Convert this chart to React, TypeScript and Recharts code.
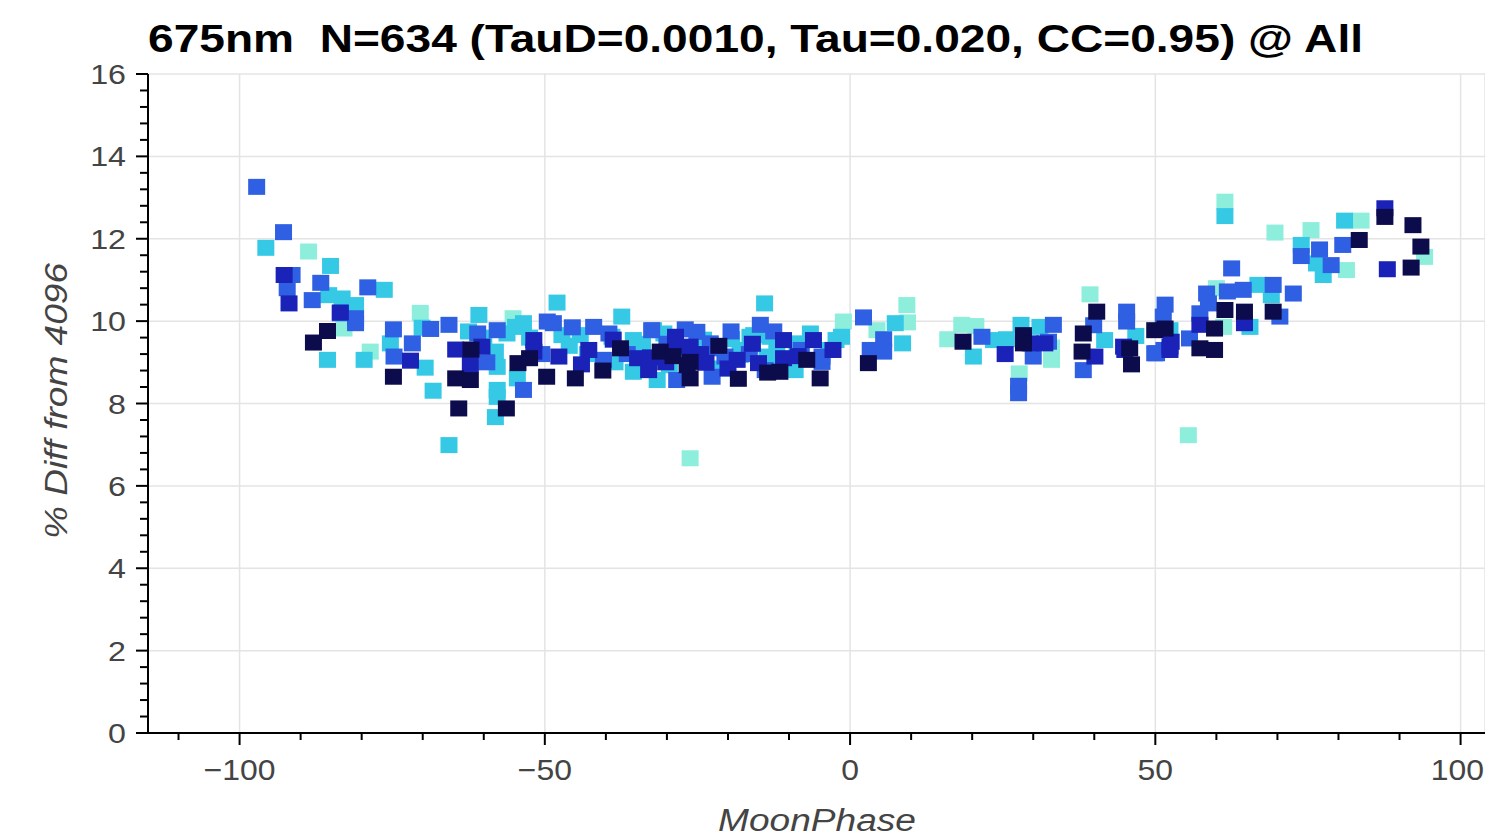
import React from 'react';
import { ScatterChart, Scatter, XAxis, YAxis, CartesianGrid } from 'recharts';

// MoonPhase vs % Diff from 4096, split by colour bucket (dark -> light)
const navyPts = [
  [-85.6, 9.76], [-87.9, 9.48], [-74.8, 8.65], [-62.1, 9.31], [-64.6, 8.61], [-62.2, 8.57],
  [-64.1, 7.88], [-56.3, 7.88], [-54.4, 8.98], [-52.5, 9.1], [-49.7, 8.65], [-45.0, 8.61],
  [-40.5, 8.8], [-37.6, 9.34], [-31.1, 9.26], [-29.0, 9.15], [-26.2, 9.01], [-26.2, 8.61],
  [-26.7, 8.93], [-21.5, 9.4], [-18.3, 8.6], [-13.5, 8.75], [-11.5, 8.77], [-7.1, 9.06],
  [-4.9, 8.61], [3.0, 8.98], [18.5, 9.5], [28.4, 9.66], [28.4, 9.46], [38.2, 9.7],
  [40.4, 10.23], [38.0, 9.26], [45.8, 9.34], [46.1, 8.95], [49.9, 9.78], [51.6, 9.82],
  [57.3, 9.34], [59.7, 9.82], [59.7, 9.3], [61.4, 10.27], [64.6, 10.23], [69.3, 10.23],
  [83.4, 11.97], [87.6, 12.53], [92.2, 12.33], [93.5, 11.81], [91.9, 11.3],
];

const darkBluePts = [
  [-92.7, 11.12], [-91.9, 10.43], [-83.5, 10.21], [-72.0, 9.04], [-64.6, 9.31], [-62.2, 8.95],
  [-60.3, 9.38], [-51.8, 9.54], [-51.8, 9.26], [-47.7, 9.14], [-44.0, 8.95], [-42.8, 9.3],
  [-38.8, 9.55], [-34.8, 9.1], [-32.7, 9.12], [-33.0, 8.81], [-30.2, 9.0], [-28.6, 9.62],
  [-28.6, 9.4], [-26.2, 9.38], [-24.5, 9.2], [-23.6, 8.99], [-20.0, 8.85], [-18.5, 9.06],
  [-16.0, 9.45], [-15.0, 8.98], [-10.9, 9.54], [-10.9, 9.1], [-8.5, 9.15], [-6.0, 9.54],
  [-2.8, 9.3], [25.4, 9.2], [29.5, 9.46], [31.9, 9.46], [40.1, 9.14], [44.8, 9.38],
  [45.0, 9.3], [52.4, 9.38], [52.6, 9.5], [52.4, 9.3], [57.3, 9.91], [64.6, 9.95],
  [87.6, 12.74], [88.0, 11.26],
];

const bluePts = [
  [-97.2, 13.26], [-92.8, 12.16], [-91.4, 11.12], [-92.2, 10.8], [-86.7, 10.93], [-88.1, 10.51],
  [-79.0, 10.82], [-83.5, 10.19], [-81.0, 10.07], [-81.0, 9.95], [-74.8, 9.8], [-74.7, 9.14],
  [-71.7, 9.46], [-68.7, 9.81], [-65.7, 9.91], [-61.0, 9.7], [-59.5, 9.0], [-57.8, 9.78],
  [-53.5, 8.33], [-50.5, 9.2], [-49.6, 9.99], [-48.6, 9.95], [-45.5, 9.85], [-42.0, 9.86],
  [-40.4, 9.06], [-39.5, 9.7], [-36.5, 9.2], [-32.5, 9.78], [-30.0, 9.45], [-28.4, 8.57],
  [-27.0, 9.8], [-25.1, 9.74], [-22.6, 8.65], [-22.9, 9.46], [-20.5, 9.14], [-22.4, 9.34],
  [-19.5, 9.75], [-16.5, 9.2], [-14.7, 9.91], [-13.9, 8.81], [-12.5, 9.75], [-8.0, 9.3],
  [-4.6, 9.01], [-4.6, 9.14], [2.2, 10.09], [5.5, 9.56], [5.5, 9.26], [3.3, 9.3],
  [21.6, 9.62], [27.6, 8.43], [27.6, 8.25], [30.0, 9.14], [33.3, 9.91], [32.5, 9.5],
  [38.2, 8.81], [39.9, 9.9], [45.3, 10.23], [45.3, 9.99], [49.9, 9.22], [51.4, 9.3],
  [51.6, 10.4], [51.3, 10.11], [50.2, 9.22], [55.6, 9.58], [57.3, 10.19], [58.4, 10.67],
  [58.7, 10.43], [61.8, 10.72], [62.5, 11.28], [64.4, 10.76], [69.3, 10.88], [70.4, 10.11],
  [72.6, 10.67], [73.9, 11.58], [76.9, 11.74], [78.8, 11.36], [80.7, 11.85],
];

const cyanPts = [
  [-95.7, 11.78], [-85.1, 11.34], [-85.4, 10.63], [-83.2, 10.55], [-81.0, 10.39], [-76.3, 10.76],
  [-85.6, 9.06], [-79.6, 9.06], [-75.3, 9.46], [-70.1, 9.84], [-69.6, 8.87], [-68.3, 8.31],
  [-62.5, 9.75], [-60.8, 10.15], [-60.0, 9.6], [-65.7, 6.99], [-57.8, 8.33], [-57.8, 8.16],
  [-58.1, 7.67], [-58.1, 9.26], [-57.8, 8.89], [-54.5, 8.61], [-53.5, 9.95], [-54.8, 9.86],
  [-56.2, 9.7], [-52.5, 9.6], [-48.0, 10.45], [-47.2, 9.66], [-46.0, 9.4], [-44.2, 9.66],
  [-43.0, 9.2], [-38.5, 9.0], [-37.4, 10.11], [-39.0, 9.62], [-35.5, 9.54], [-35.2, 9.34],
  [-35.5, 8.77], [-34.0, 9.45], [-31.6, 8.57], [-30.5, 9.7], [-29.6, 8.93], [-27.5, 9.2],
  [-32.2, 9.78], [-24.0, 9.55], [-21.0, 8.85], [-19.4, 9.56], [-18.0, 9.18], [-17.2, 9.3],
  [-16.4, 9.62], [-14.0, 10.43], [-15.8, 9.66], [-13.6, 9.14], [-13.1, 9.62], [-12.0, 9.3],
  [-9.0, 8.81], [-8.7, 9.46], [-6.5, 9.7], [-3.5, 9.3], [-2.3, 9.54], [-1.4, 9.62],
  [7.4, 9.95], [8.6, 9.46], [20.2, 9.14], [23.5, 9.54], [25.6, 9.56], [28.0, 9.91],
  [31.1, 9.86], [41.7, 9.54], [46.8, 9.64], [52.4, 9.78], [61.4, 12.55], [65.5, 9.86],
  [66.8, 10.88], [69.0, 10.63], [73.9, 11.85], [76.4, 11.4], [77.5, 11.12], [81.0, 12.44],
];

const aquaPts = [
  [-88.7, 11.69], [-82.9, 9.82], [-78.6, 9.26], [-70.4, 10.2], [-55.2, 10.07], [-26.2, 6.67],
  [-1.1, 9.99], [9.3, 10.39], [9.4, 9.97], [4.4, 9.78], [16.0, 9.56], [18.3, 9.91],
  [20.6, 9.88], [27.7, 8.73], [33.0, 9.36], [33.0, 9.06], [39.3, 10.65], [55.4, 7.23],
  [61.4, 12.9], [60.0, 10.8], [61.2, 9.86], [69.6, 12.15], [75.5, 12.21], [83.7, 12.44],
  [81.3, 11.24], [94.1, 11.56],
];

const xMajorTicks = [-100, -50, 0, 50, 100];
const xAllTicks = [-110, -100, -90, -80, -70, -60, -50, -40, -30, -20, -10, 0, 10, 20, 30, 40, 50, 60, 70, 80, 90, 100];
const yMajorTicks = [0, 2, 4, 6, 8, 10, 12, 14, 16];
const yAllTicks = [
  0, 0.4, 0.8, 1.2, 1.6, 2, 2.4, 2.8, 3.2, 3.6, 4, 4.4, 4.8, 5.2, 5.6, 6, 6.4, 6.8, 7.2, 7.6,
  8, 8.4, 8.8, 9.2, 9.6, 10, 10.4, 10.8, 11.2, 11.6, 12, 12.4, 12.8, 13.2, 13.6, 14, 14.4,
  14.8, 15.2, 15.6, 16,
];

const series = [
  { name: 'aqua', color: '#8deedc', pts: aquaPts },
  { name: 'cyan', color: '#36c9e6', pts: cyanPts },
  { name: 'blue', color: '#2f5fe2', pts: bluePts },
  { name: 'darkblue', color: '#1a22b8', pts: darkBluePts },
  { name: 'navy', color: '#0c0c4c', pts: navyPts },
];

const FONT = '"Liberation Sans", Arial, Helvetica, sans-serif';
const CHART_W = 1485;
const isMajor = (v: number, majors: number[]) => majors.some((m) => Math.abs(m - v) < 1e-6);
const fmt = (v: number) => (v < 0 ? '\u2212' + Math.abs(v) : String(v));

const XTick = (props: any) => {
  const { x, y, payload } = props;
  const major = isMajor(payload.value, xMajorTicks);
  const label = fmt(payload.value);
  // keep the last label inside the picture, as the reference does
  const half = label.length * 29 * 0.556 * 1.1 * 0.5;
  const tx = Math.min(x, CHART_W - 1 - half);
  return (
    <g>
      <line x1={x} x2={x} y1={y} y2={y + (major ? 12 : 7)} stroke="#000" strokeWidth={2} />
      {major && (
        <text transform={`translate(${tx},${y + 47}) scale(1.1,1)`} textAnchor="middle" fontSize={29} fill="#444" fontFamily={FONT}>
          {label}
        </text>
      )}
    </g>
  );
};

const YTick = (props: any) => {
  const { x, y, payload } = props;
  const major = isMajor(payload.value, yMajorTicks);
  return (
    <g>
      <line x1={x - (major ? 12 : 8)} x2={x} y1={y} y2={y} stroke="#000" strokeWidth={2} />
      {major && (
        <text transform={`translate(${x - 22},${y + 10}) scale(1.15,1)`} textAnchor="end" fontSize={28} fill="#444" fontFamily={FONT}>
          {payload.value}
        </text>
      )}
    </g>
  );
};

const square = (color: string) => (props: any) => (
  <rect x={props.cx - 8.5} y={props.cy - 8} width={17} height={16} fill={color} />
);

export default function App() {
  return (
    <div style={{ position: 'absolute', left: 0, top: 0, width: CHART_W, height: 839, background: '#fff', overflow: 'hidden' }}>
      <ScatterChart width={CHART_W} height={839} margin={{ top: 74, right: 0, bottom: 0, left: 0 }}>
        <CartesianGrid xAxisId="grid" yAxisId="grid" stroke="#e4e4e4" strokeWidth={1.5} />
        <XAxis xAxisId="grid" type="number" dataKey="x" domain={[-115, 104]} ticks={xMajorTicks} allowDataOverflow hide />
        <YAxis yAxisId="grid" type="number" dataKey="y" domain={[0, 16]} ticks={yMajorTicks} allowDataOverflow hide />
        <XAxis
          type="number"
          dataKey="x"
          domain={[-115, 104]}
          ticks={xAllTicks}
          interval={0}
          allowDataOverflow
          height={106}
          tickSize={0}
          tickMargin={0}
          tickLine={false}
          axisLine={{ stroke: '#000', strokeWidth: 2 }}
          tick={<XTick />}
        />
        <YAxis
          type="number"
          dataKey="y"
          domain={[0, 16]}
          ticks={yAllTicks}
          interval={0}
          allowDataOverflow
          width={148}
          tickSize={0}
          tickMargin={0}
          tickLine={false}
          axisLine={{ stroke: '#000', strokeWidth: 2 }}
          tick={<YTick />}
        />
        {series.map((s) => (
          <Scatter
            key={s.name}
            name={s.name}
            data={s.pts.map(([x, y]) => ({ x, y }))}
            shape={square(s.color)}
            isAnimationActive={false}
          />
        ))}
      </ScatterChart>
      <svg width={CHART_W} height={839} style={{ position: 'absolute', left: 0, top: 0, pointerEvents: 'none' }}>
        <text x={148} y={52} fontSize={38} fontWeight="bold" fontFamily={FONT} fill="#000" textLength={1215} lengthAdjust="spacingAndGlyphs" style={{ whiteSpace: 'pre' }}>
          675nm  N=634 (TauD=0.0010, Tau=0.020, CC=0.95) @ All
        </text>
        <text x={718} y={831} fontSize={31} fontStyle="italic" fontFamily={FONT} fill="#444" textLength={198} lengthAdjust="spacingAndGlyphs">
          MoonPhase
        </text>
        <text transform="translate(67,539) rotate(-90)" fontSize={32} fontStyle="italic" fontFamily={FONT} fill="#444" textLength={276} lengthAdjust="spacingAndGlyphs">
          % Diff from 4096
        </text>
      </svg>
    </div>
  );
}
